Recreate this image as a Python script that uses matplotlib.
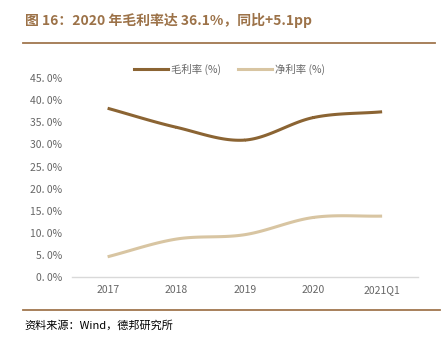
import numpy as np
import matplotlib.pyplot as plt
from matplotlib.lines import Line2D

plt.rcParams['font.family'] = ['Noto Sans CJK SC', 'DejaVu Sans']

periods = ["2017", "2018", "2019", "2020", "2021Q1"]
gross_margin = [38.2, 33.9, 31.0, 36.1, 37.4]
net_margin = [4.6, 8.6, 9.6, 13.5, 13.8]
yticks = [0, 5, 10, 15, 20, 25, 30, 35, 40, 45]


def smooth(y, n=30):
    # catmull-rom curve through the points, like excel's smoothed line
    y = np.asarray(y, float)
    x = np.arange(len(y), dtype=float)
    px = np.concatenate([[2 * x[0] - x[1]], x, [2 * x[-1] - x[-2]]])
    py = np.concatenate([[2 * y[0] - y[1]], y, [2 * y[-1] - y[-2]]])
    xs, ys = [], []
    t = np.linspace(0, 1, n)
    for i in range(1, len(px) - 2):
        for p, out in ((px, xs), (py, ys)):
            p0, p1, p2, p3 = p[i - 1], p[i], p[i + 1], p[i + 2]
            out.extend(0.5 * (2 * p1 + (-p0 + p2) * t
                              + (2 * p0 - 5 * p1 + 4 * p2 - p3) * t ** 2
                              + (-p0 + 3 * p1 - 3 * p2 + p3) * t ** 3))
    return np.array(xs), np.array(ys)


fig = plt.figure(figsize=(4.44, 3.4), dpi=100)
ax = fig.add_axes([0.162, 0.185, 0.779, 0.585])

c_gross = "#8B6433"
c_net = "#D8C5A2"
x1, y1 = smooth(gross_margin)
x2, y2 = smooth(net_margin)
ax.plot(x1, y1, color=c_gross, lw=2.2, solid_capstyle="butt")
ax.plot(x2, y2, color=c_net, lw=2.2, solid_capstyle="butt")

ax.set_xlim(-0.52, 4.52)
ax.set_ylim(0, 45)
ax.set_xticks(range(len(periods)))
ax.set_xticklabels(periods)
ax.set_yticks(yticks)
ax.set_yticklabels([f"{v:.1f}%".replace(".", ". ") for v in yticks])
ax.tick_params(length=0, labelsize=7.5, colors="#666666", pad=6)
ax.tick_params(axis="y", pad=7)
for s in ["top", "right", "left"]:
    ax.spines[s].set_visible(False)
ax.spines["bottom"].set_color("#D9D9D9")
ax.spines["bottom"].set_linewidth(1)

handles = [Line2D([], [], color=c_gross, lw=2.2), Line2D([], [], color=c_net, lw=2.2)]
fig.legend(handles, ["毛利率 (%)", "净利率 (%)"], loc="center", bbox_to_anchor=(0.517, 0.797),
           ncol=2, frameon=False, fontsize=7.5, labelcolor="#666666",
           handlelength=3.3, columnspacing=1.6, handletextpad=0.3)

fig.text(0.056, 0.94, "图 16：2020 年毛利率达 36.1%，同比+5.1pp", fontsize=10,
         fontweight="bold", color="#9C7248", va="center")
fig.add_artist(Line2D([0.052, 0.98], [0.873, 0.873], color="#A0764E", lw=1.3))
fig.add_artist(Line2D([0.052, 0.99], [0.088, 0.088], color="#A0764E", lw=1.3))
fig.text(0.056, 0.044, "资料来源：Wind，德邦研究所", fontsize=8, color="#000000", va="center")

fig.savefig("out.png", dpi=100, facecolor="white")
